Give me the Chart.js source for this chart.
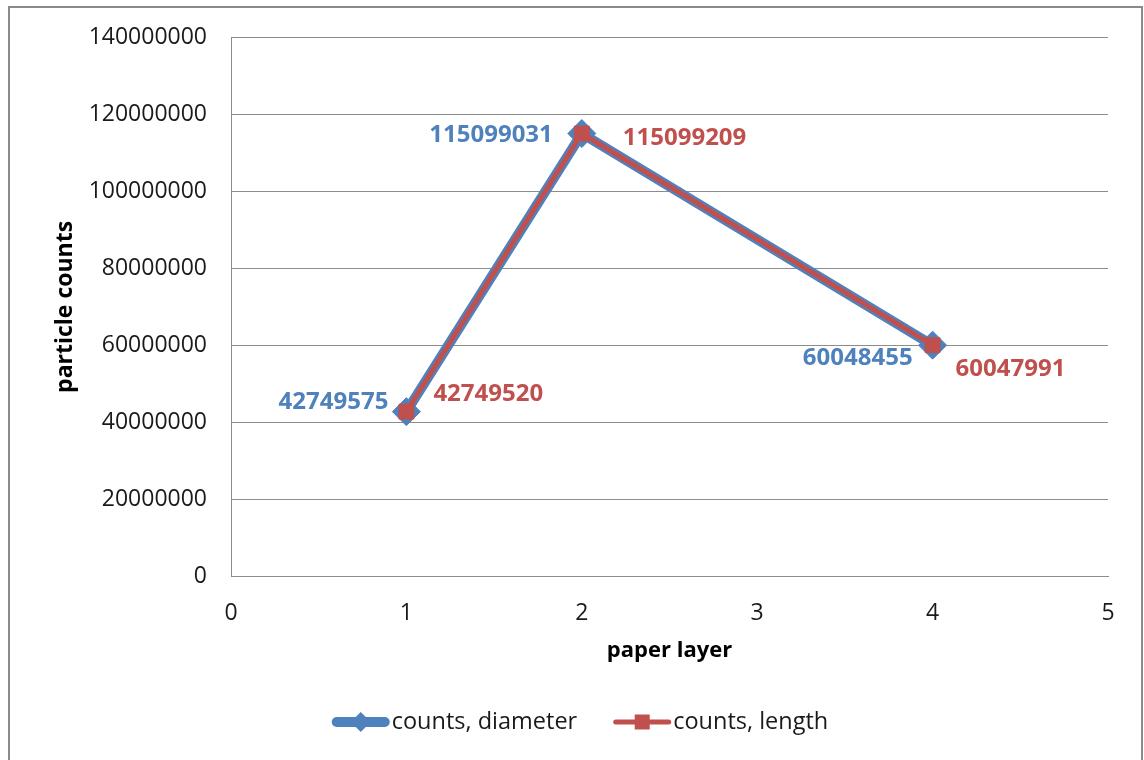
<!DOCTYPE html>
<html>
<head>
<meta charset="utf-8">
<title>particle counts</title>
<script src="https://cdn.jsdelivr.net/npm/chart.js@4"></script>
<style>
  html, body { margin: 0; padding: 0; background: #fff; }
  canvas { display: block; }
</style>
</head>
<body>
<canvas id="counts-canvas" width="1144" height="760"></canvas>
<script>
var paperLayers = [1, 2, 4]
var countsDiameter = [42749575, 115099031, 60048455]
var countsLength = [42749520, 115099209, 60047991]
var seriesNames = ['counts, diameter', 'counts, length']
var yTickMax = 140000000
var yTickStep = 20000000
var xTickMax = 5

var BLUE = '#4F81BD'
var RED = '#C0504D'
var GRID = '#8c8c8c'
var FONT = '"Open Sans", "Liberation Sans", sans-serif'

// little nudges so the value labels sit where they don't collide with the lines
var labelNudge = [
    [[-18, -10], [-29, 2], [-20, 13]],
    [[27, -18], [41, 5], [23, 24]]
]

function to_points(xs, ys) {
    pts = []
    for (let i = 0; i < xs.length; i++) {
        pts.push({x: xs[i], y: ys[i]})
    }
    return pts
}

// grey frame round the whole chart
var framePlugin = {
    id: 'frame',
    beforeDraw: function (chart) {
        var ctx = chart.ctx
        ctx.save()
        ctx.fillStyle = '#fff'
        ctx.fillRect(0, 0, chart.width, chart.height)
        ctx.strokeStyle = '#8a8a8a'
        ctx.lineWidth = 2
        ctx.strokeRect(9, 7, 1133, 800)
        ctx.restore()
    }
}

// value labels next to each point, left for diameter, right for length
var valueLabelPlugin = {
    id: 'valueLabels',
    afterDatasetsDraw: function (chart) {
        var ctx = chart.ctx
        ctx.save()
        ctx.font = 'bold 24px ' + FONT
        ctx.textBaseline = 'middle'
        chart.data.datasets.forEach(function (ds, di) {
            var meta = chart.getDatasetMeta(di)
            ctx.fillStyle = ds.borderColor
            ctx.textAlign = di === 0 ? 'right' : 'left'
            meta.data.forEach(function (pt, i) {
                var n = labelNudge[di][i]
                ctx.fillText(String(ds.data[i].y), pt.x + n[0], pt.y + n[1])
            })
        })
        ctx.restore()
    }
}

// legend under the axis title, line + marker + name
var legendPlugin = {
    id: 'bottomLegend',
    afterDraw: function (chart) {
        var ctx = chart.ctx
        var y = 722
        var lineLen = 58
        var gap = 2
        var spacing = 36
        ctx.save()
        ctx.font = '23.5px ' + FONT
        ctx.textBaseline = 'middle'
        ctx.textAlign = 'left'
        var sets = chart.data.datasets
        var total = 0
        sets.forEach(function (ds, i) {
            total += lineLen + gap + ctx.measureText(ds.label).width
            if (i > 0) total += spacing
        })
        var x = chart.width / 2 - total / 2 + 8
        sets.forEach(function (ds) {
            ctx.strokeStyle = ds.borderColor
            ctx.lineWidth = ds.borderWidth
            ctx.lineCap = 'round'
            ctx.beginPath()
            ctx.moveTo(x + ds.borderWidth / 2, y)
            ctx.lineTo(x + lineLen - ds.borderWidth / 2, y)
            ctx.stroke()
            var cx = x + lineLen / 2
            ctx.fillStyle = ds.pointBackgroundColor
            ctx.beginPath()
            if (ds.pointStyle === 'rectRot') {
                var r = 10
                ctx.moveTo(cx - r, y)
                ctx.lineTo(cx, y - r)
                ctx.lineTo(cx + r, y)
                ctx.lineTo(cx, y + r)
                ctx.closePath()
            } else {
                ctx.rect(cx - 7.5, y - 7.5, 15, 15)
            }
            ctx.fill()
            ctx.fillStyle = '#1a1a1a'
            ctx.fillText(ds.label, x + lineLen + gap, y)
            x += lineLen + gap + ctx.measureText(ds.label).width + spacing
        })
        ctx.restore()
    }
}

var ctx = document.getElementById('counts-canvas').getContext('2d')
var countsChart = new Chart(ctx, {
    type: 'line',
    data: {
        datasets: [{
            label: seriesNames[0],
            data: to_points(paperLayers, countsDiameter),
            order: 2,
            borderColor: BLUE,
            backgroundColor: BLUE,
            borderWidth: 10,
            pointStyle: 'rectRot',
            pointRadius: 14,
            pointBackgroundColor: BLUE,
            pointBorderColor: BLUE,
            pointBorderWidth: 1,
            tension: 0,
            fill: false
        }, {
            label: seriesNames[1],
            data: to_points(paperLayers, countsLength),
            order: 1,
            borderColor: RED,
            backgroundColor: RED,
            borderWidth: 5,
            pointStyle: 'rect',
            pointRadius: 10.5,
            pointBackgroundColor: RED,
            pointBorderColor: RED,
            pointBorderWidth: 1,
            tension: 0,
            fill: false
        }]
    },
    options: {
        responsive: false,
        animation: false,
        layout: {
            padding: {left: 48, top: 37, right: 36, bottom: 92}
        },
        plugins: {
            legend: {display: false},
            tooltip: {enabled: false}
        },
        scales: {
            x: {
                type: 'linear',
                min: 0,
                max: xTickMax,
                afterFit: function (scale) { scale.height = 92 },
                grid: {display: false, drawTicks: false},
                border: {display: true, color: GRID, width: 1},
                ticks: {
                    stepSize: 1,
                    padding: 24,
                    color: '#1a1a1a',
                    font: {family: FONT, size: 23}
                },
                title: {
                    display: true,
                    text: 'paper layer',
                    color: '#000',
                    font: {family: FONT, size: 22, weight: 'bold'}
                }
            },
            y: {
                min: 0,
                max: yTickMax,
                afterFit: function (scale) { scale.width = 183 },
                grid: {display: true, color: GRID, lineWidth: 1, drawTicks: false},
                border: {display: true, color: GRID, width: 1},
                ticks: {
                    stepSize: yTickStep,
                    padding: 24,
                    color: '#1a1a1a',
                    font: {family: FONT, size: 23},
                    callback: function (value) { return String(value) }
                },
                title: {
                    display: true,
                    text: 'particle counts',
                    color: '#000',
                    font: {family: FONT, size: 23, weight: 'bold'}
                }
            }
        }
    },
    plugins: [framePlugin, valueLabelPlugin, legendPlugin]
});
</script>
</body>
</html>
